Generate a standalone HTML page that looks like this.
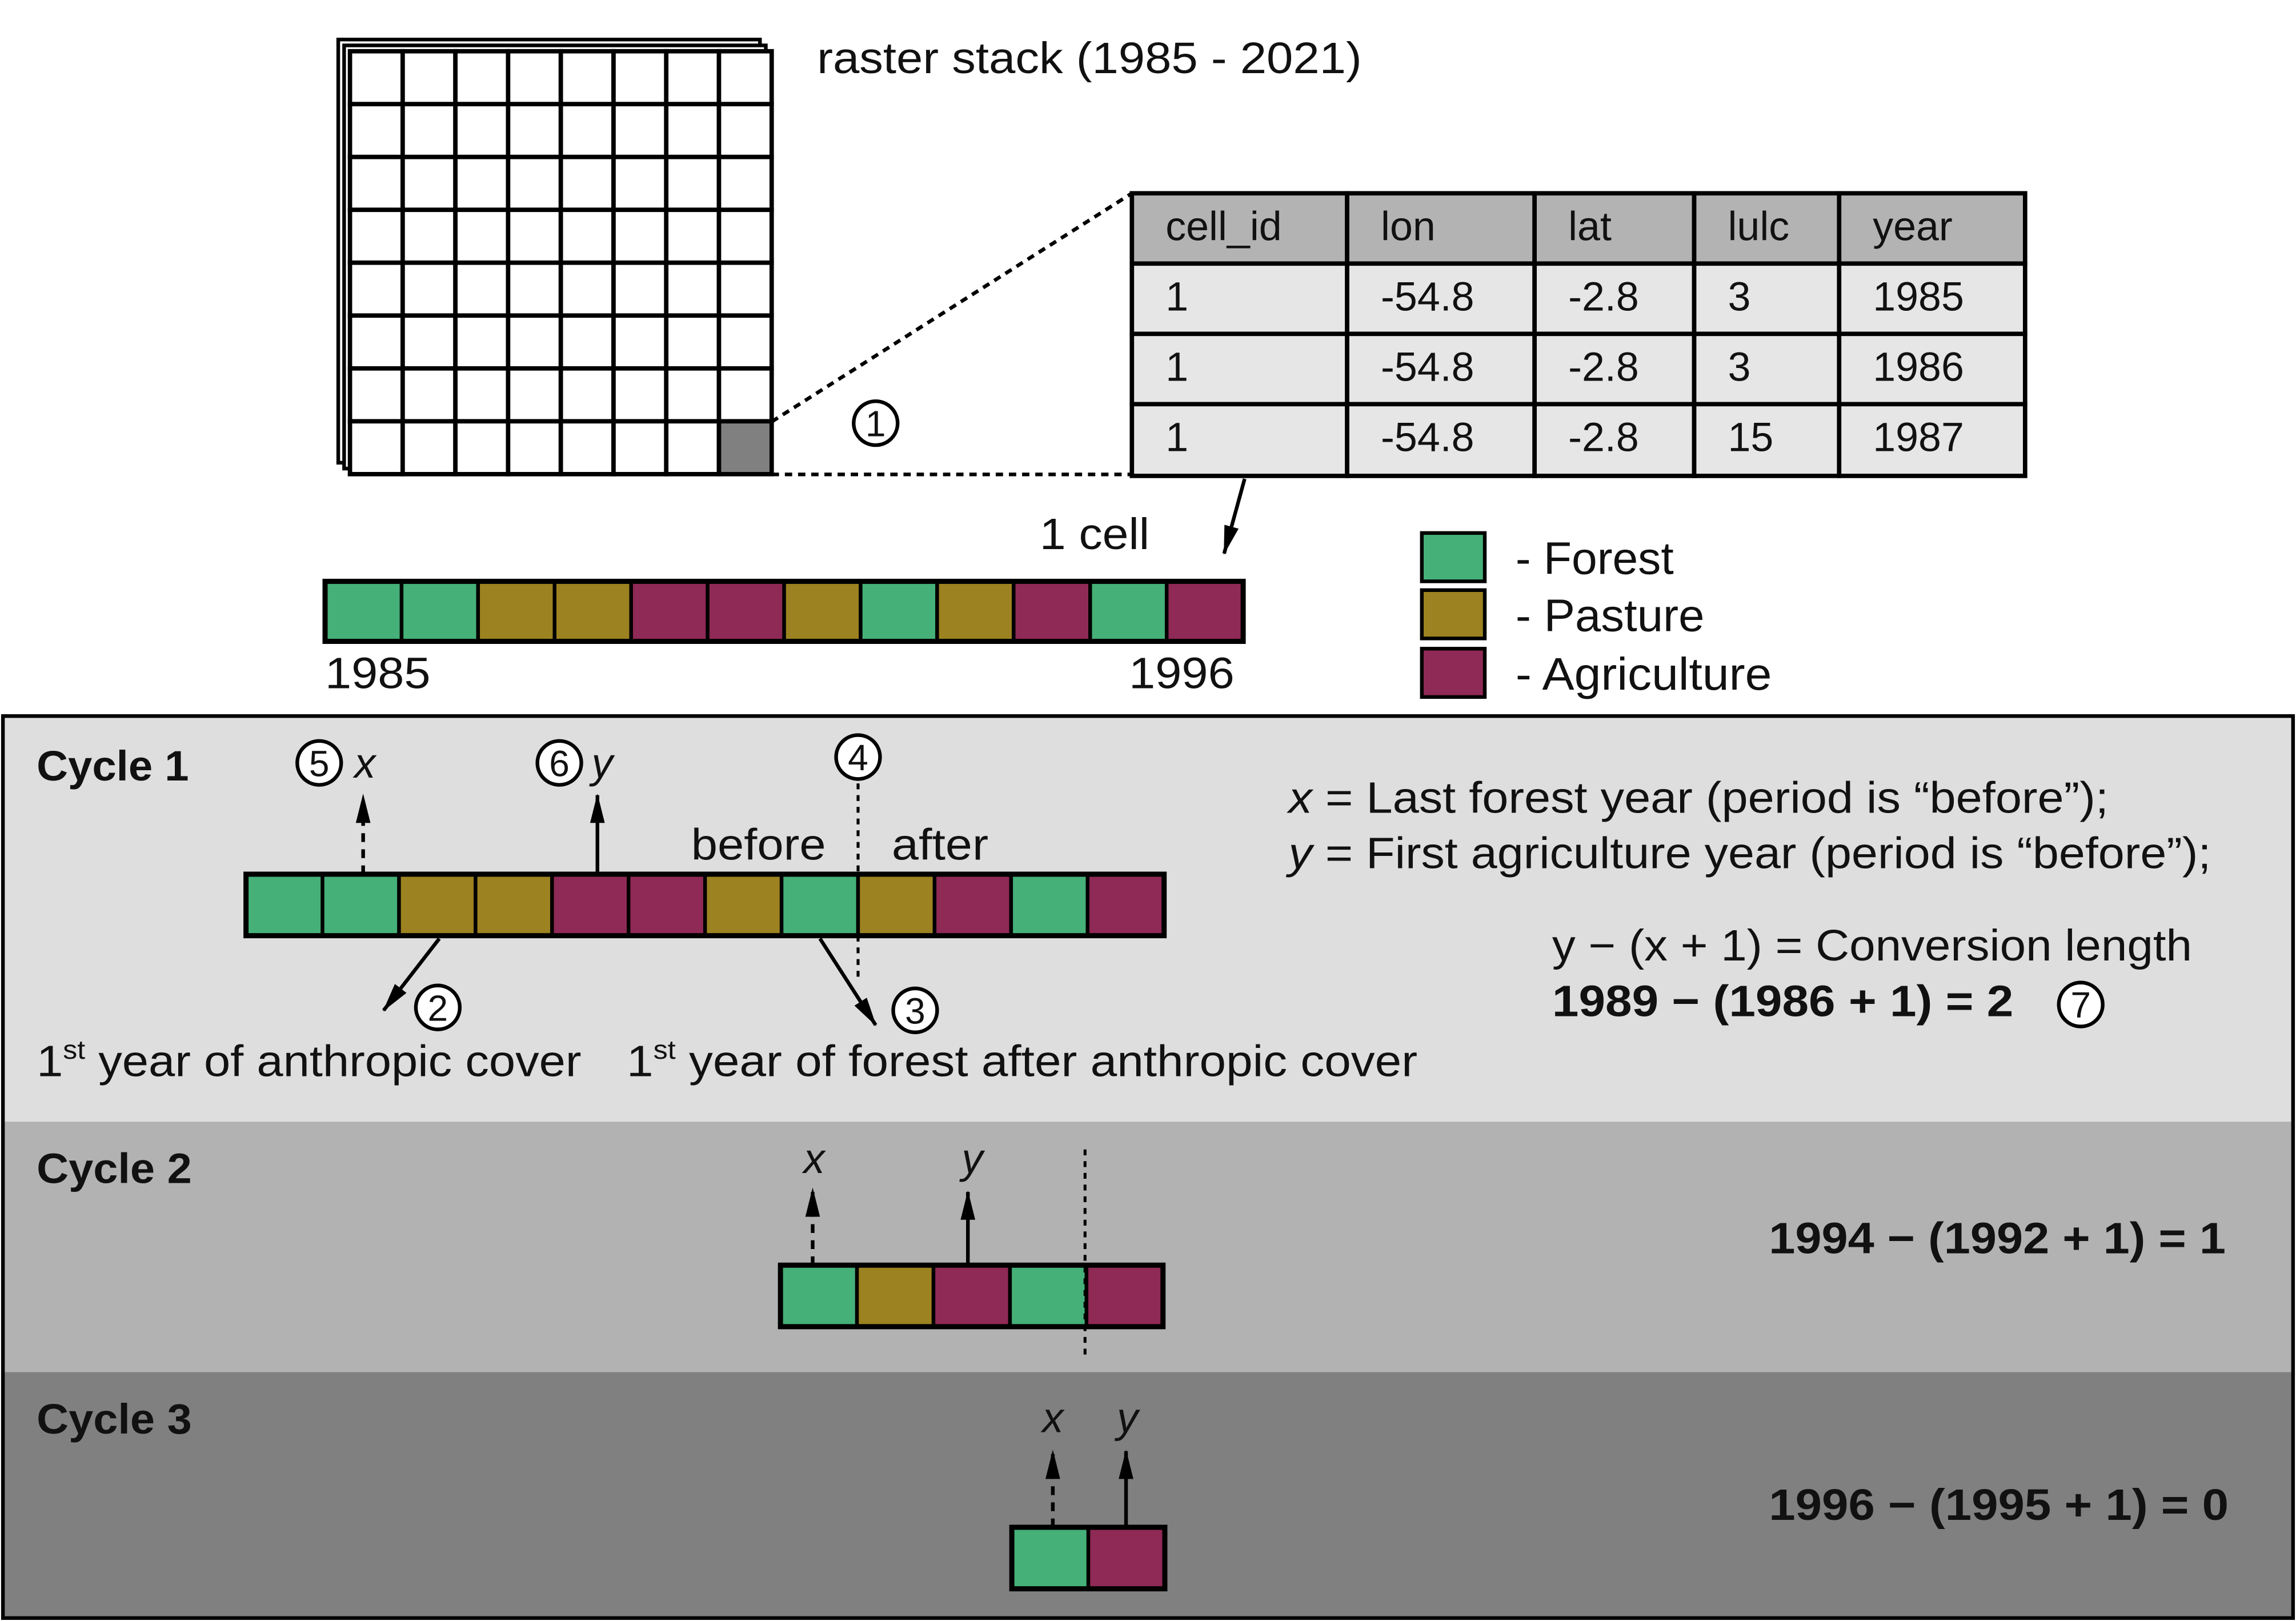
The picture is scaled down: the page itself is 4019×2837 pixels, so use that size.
<!DOCTYPE html>
<html><head><meta charset="utf-8"><style>
html,body{margin:0;padding:0;background:#fff}
svg{display:block}
text{font-family:"Liberation Sans",sans-serif;fill:#111}
</style></head><body>
<svg width="4019" height="2837" viewBox="0 0 1568 1107" preserveAspectRatio="none" xmlns="http://www.w3.org/2000/svg">
<defs>
<marker id="ah" viewBox="0 0 20 10" refX="19" refY="5" markerWidth="20" markerHeight="10" markerUnits="userSpaceOnUse" orient="auto"><path d="M0,0 L20,5 L0,10 Z" fill="#000"/></marker>
</defs>
<g id="topg"></g>
<g id="bottomg"></g>
</svg>
<script>
const NS='http://www.w3.org/2000/svg';
const strip=['F','F','P','P','A','A','P','F','P','A','F','A'];
const cycle2=['F','P','A','F','A'];
const cycle3=['F','A'];
const colors={F:'#45b078',P:'#9c8220',A:'#8f2955'};
const tableHead=['cell_id','lon','lat','lulc','year'];
const tableRows=[['1','-54.8','-2.8','3','1985'],['1','-54.8','-2.8','3','1986'],['1','-54.8','-2.8','15','1987']];
function el(tag,attrs,parent,txt){const e=document.createElementNS(NS,tag);for(const k in attrs)e.setAttribute(k,attrs[k]);if(txt!==undefined)e.textContent=txt;parent.appendChild(e);return e;}
const topG=document.getElementById('topg'),botG=document.getElementById('bottomg');
function fit(e,len){e.setAttribute('textLength',len);e.setAttribute('lengthAdjust','spacingAndGlyphs');}
for(const o of [8,4]){const r=el('rect',{x:239-o,y:35-o,width:288,height:289,fill:'#fff',stroke:'#000','stroke-width':2.5},topG);}
for(let i=0;i<8;i++)for(let j=0;j<8;j++){const r=el('rect',{x:239+j*36,y:35+i*36.1,width:36,height:36.1,fill:(i==7&&j==7)?'#808080':'#fff',stroke:'#000','stroke-width':3},topG);}
let t=el('text',{x:558,y:50,'font-size':30},topG,'raster stack (1985 - 2021)');fit(t,372);
el('line',{x1:527,y1:288,x2:773,y2:132,stroke:'#000','stroke-width':2.5,'stroke-dasharray':'5,4'},topG);
el('line',{x1:527,y1:324,x2:773,y2:324,stroke:'#000','stroke-width':2.5,'stroke-dasharray':'5,4'},topG);
function circ(cx,cy,n,parent){const g=el('g',{},parent);el('circle',{cx:cx,cy:cy,r:15,fill:'#fff',stroke:'#000','stroke-width':2.5},g);el('text',{x:cx,y:cy+9,'font-size':25,'text-anchor':'middle'},g,n);}
circ(598,289,'1',topG);
const cols=[773,920,1048,1157,1256,1383],rows=[132,180,228,276,325];
for(let r=0;r<4;r++)for(let c=0;c<5;c++){const x=cols[c],y=rows[r];const rc=el('rect',{x:x,y:y,width:cols[c+1]-x,height:rows[r+1]-y,fill:r==0?'#b3b3b3':'#e6e6e6',stroke:'#000','stroke-width':3},topG);
const tx=el('text',{x:x+23,y:y+32,'font-size':28},topG,r==0?tableHead[c]:tableRows[r-1][c]);}
el('line',{x1:850,y1:327,x2:836,y2:378,stroke:'#000','stroke-width':2.5,'marker-end':'url(#ah)'},topG);
t=el('text',{x:710,y:375,'font-size':30},topG,'1 cell');fit(t,75);
function drawStrip(arr,x0,y0,h,parent,name){const w=52.25;arr.forEach((k,i)=>{const r=el('rect',{x:x0+i*w,y:y0,width:w,height:h,fill:colors[k],stroke:'#000','stroke-width':2.5},parent);});el('rect',{x:x0,y:y0,width:arr.length*w,height:h,fill:'none',stroke:'#000','stroke-width':3.5},parent);}
drawStrip(strip,222,397,41,topG,'strip');
t=el('text',{x:222,y:470,'font-size':30},topG,'1985');fit(t,72);
t=el('text',{x:771,y:470,'font-size':30},topG,'1996');fit(t,72);
[['F','- Forest',364,108],['P','- Pasture',403,129],['A','- Agriculture',443,175]].forEach(([k,l,y,w])=>{const g=el('g',{},topG);el('rect',{x:971,y:y,width:43,height:33,fill:colors[k],stroke:'#000','stroke-width':2.5},g);const tt=el('text',{x:1035,y:y+28,'font-size':31},g,l);fit(tt,w);});
el('rect',{x:2,y:489,width:1564,height:277,fill:'#dedede'},botG);
el('rect',{x:2,y:766,width:1564,height:171,fill:'#b2b2b2'},botG);
el('rect',{x:2,y:937,width:1564,height:168,fill:'#808080'},botG);
el('rect',{x:2,y:489,width:1564,height:616,fill:'none',stroke:'#000','stroke-width':2.5},botG);
function txt(x,y,s,size,extra,name,w){const e=el('text',Object.assign({x:x,y:y,'font-size':size},extra||{}),botG,s);if(w)fit(e,w);return e;}
txt(25,533,'Cycle 1',29,{'font-weight':'bold'},'cycle-1-title',104);
txt(25,808,'Cycle 2',29,{'font-weight':'bold'},'cycle-2-title',106);
txt(25,979,'Cycle 3',29,{'font-weight':'bold'},'cycle-3-title',106);
drawStrip(strip,168,597,42,botG,'cycle1');
drawStrip(cycle2,533,864,42,botG,'cycle2');
drawStrip(cycle3,691,1043,42,botG,'cycle3');
function arrow(x,y1,y2,dashed){el('line',{x1:x,y1:y1,x2:x,y2:y2,stroke:'#000','stroke-width':2.5,'stroke-dasharray':dashed?'6,5':'none','marker-end':'url(#ah)'},botG);}
arrow(248,597,543,true);arrow(408,597,543,false);
arrow(555,864,812,true);arrow(661,864,814,false);
arrow(719,1043,991,true);arrow(769,1043,991,false);
el('line',{x1:586,y1:535,x2:586,y2:670,stroke:'#000','stroke-width':2,'stroke-dasharray':'4,4'},botG);
el('line',{x1:741,y1:785,x2:741,y2:925,stroke:'#000','stroke-width':2,'stroke-dasharray':'4,4'},botG);
circ(218,521,'5',botG);txt(242,531,'x',29,{'font-style':'italic'},'x-label');
circ(382,521,'6',botG);txt(404,531,'y',29,{'font-style':'italic'},'y-label');
circ(586,517,'4',botG);
txt(472,587,'before',30,{},'before-label',92);txt(609,587,'after',30,{},'after-label',66);
el('line',{x1:300,y1:641,x2:262,y2:690,stroke:'#000','stroke-width':2.5,'marker-end':'url(#ah)'},botG);
el('line',{x1:560,y1:641,x2:598,y2:700,stroke:'#000','stroke-width':2.5,'marker-end':'url(#ah)'},botG);
circ(299,688,'2',botG);circ(625,690,'3',botG);
let e=txt(25,735,'',30,{},'anthropic-cover-label');e.innerHTML='1<tspan dy="-12" font-size="18">st</tspan><tspan dy="12"> year of anthropic cover</tspan>';fit(e,372);
e=txt(428,735,'',30,{},'forest-after-label');e.innerHTML='1<tspan dy="-12" font-size="18">st</tspan><tspan dy="12"> year of forest after anthropic cover</tspan>';fit(e,540);
e=txt(880,555,'',30,{},'x-definition');e.innerHTML='<tspan font-style="italic">x</tspan> = Last forest year (period is \u201cbefore\u201d);';fit(e,560);
e=txt(880,593,'',30,{},'y-definition');e.innerHTML='<tspan font-style="italic">y</tspan> = First agriculture year (period is \u201cbefore\u201d);';fit(e,630);
txt(1060,656,'y \u2212 (x + 1) = Conversion length',30,{},'formula',437);
txt(1060,694,'1989 \u2212 (1986 + 1) = 2',30,{'font-weight':'bold'},'cycle-1-result',315);
circ(1421,686,'7',botG);
txt(556,801,'x',29,{'font-style':'italic','text-anchor':'middle'},'cycle2-x');
txt(664,801,'y',29,{'font-style':'italic','text-anchor':'middle'},'cycle2-y');
txt(1208,856,'1994 \u2212 (1992 + 1) = 1',30,{'font-weight':'bold'},'cycle-2-result',312);
txt(719,978,'x',29,{'font-style':'italic','text-anchor':'middle'},'cycle3-x');
txt(770,978,'y',29,{'font-style':'italic','text-anchor':'middle'},'cycle3-y');
txt(1208,1038,'1996 \u2212 (1995 + 1) = 0',30,{'font-weight':'bold'},'cycle-3-result',314);
</script>
</body></html>
